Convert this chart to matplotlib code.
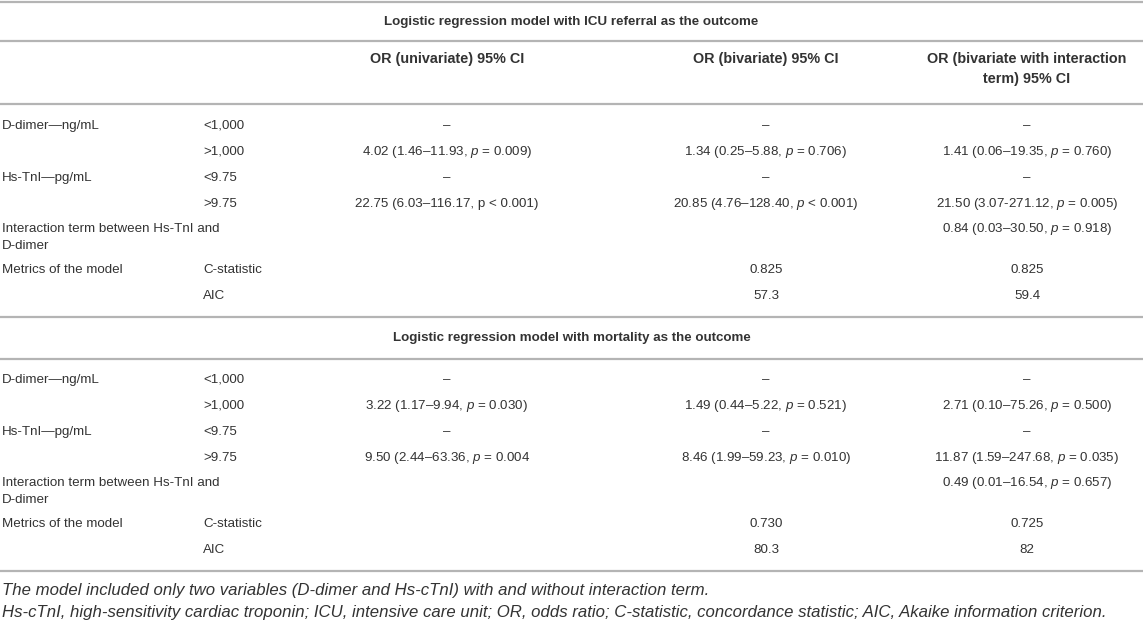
import matplotlib
matplotlib.use("Agg")
import matplotlib.pyplot as plt

plt.rcParams['font.family'] = ['Liberation Sans', 'DejaVu Sans']
plt.rcParams['mathtext.fontset'] = 'custom'
plt.rcParams['mathtext.rm'] = 'Liberation Sans'
plt.rcParams['mathtext.it'] = 'Liberation Sans:italic'

# ---- table content ----
section_titles = ['Logistic regression model with ICU referral as the outcome',
                  'Logistic regression model with mortality as the outcome']
col_headers = ['OR (univariate) 95% CI',
               'OR (bivariate) 95% CI',
               'OR (bivariate with interaction\nterm) 95% CI']

row_labels = ['D-dimer\u2014ng/mL', '', 'Hs-TnI\u2014pg/mL', '',
              'Interaction term between Hs-TnI and\nD-dimer', 'Metrics of the model', '']
sub_labels = ['<1,000', '>1,000', '<9.75', '>9.75', '', 'C-statistic', 'AIC']

P = r'$\mathit{p}$'
icu_univ = ['\u2013', '4.02 (1.46\u201311.93, ' + P + ' = 0.009)', '\u2013',
            '22.75 (6.03\u2013116.17, p < 0.001)', '', '', '']
icu_biv = ['\u2013', '1.34 (0.25\u20135.88, ' + P + ' = 0.706)', '\u2013',
           '20.85 (4.76\u2013128.40, ' + P + ' < 0.001)', '', '0.825', '57.3']
icu_int = ['\u2013', '1.41 (0.06\u201319.35, ' + P + ' = 0.760)', '\u2013',
           '21.50 (3.07-271.12, ' + P + ' = 0.005)',
           '0.84 (0.03\u201330.50, ' + P + ' = 0.918)', '0.825', '59.4']

mort_univ = ['\u2013', '3.22 (1.17\u20139.94, ' + P + ' = 0.030)', '\u2013',
             '9.50 (2.44\u201363.36, ' + P + ' = 0.004', '', '', '']
mort_biv = ['\u2013', '1.49 (0.44\u20135.22, ' + P + ' = 0.521)', '\u2013',
            '8.46 (1.99\u201359.23, ' + P + ' = 0.010)', '', '0.730', '80.3']
mort_int = ['\u2013', '2.71 (0.10\u201375.26, ' + P + ' = 0.500)', '\u2013',
            '11.87 (1.59\u2013247.68, ' + P + ' = 0.035)',
            '0.49 (0.01\u201316.54, ' + P + ' = 0.657)', '0.725', '82']

footnotes = ['The model included only two variables (D-dimer and Hs-cTnI) with and without interaction term.',
             'Hs-cTnI, high-sensitivity cardiac troponin; ICU, intensive care unit; OR, odds ratio; '
             'C-statistic, concordance statistic; AIC, Akaike information criterion.']

# ---- layout (pixels) ----
W, H = 1143, 642
fig = plt.figure(figsize=(W / 100, H / 100), dpi=100)
ax = fig.add_axes([0, 0, 1, 1])
ax.set_xlim(0, W)
ax.set_ylim(H, 0)
ax.axis('off')

txt = '#333333'
line_c = '#b4b4b4'
fs = 9.6
x_lab, x_sub = 2, 203
col_x = [447, 766, 1027]

def hline(y):
    ax.plot([0, W], [y, y], color=line_c, lw=1.6, solid_capstyle='butt')

def section(y0, values):
    # row heights: normal rows 26 px, two-line interaction row 41 px
    heights = [26, 26, 26, 25, 41, 26, 26]
    y = y0
    for i in range(len(row_labels)):
        for k, part in enumerate(row_labels[i].split('\n')):
            ax.text(x_lab, y + 17 * k, part, fontsize=fs, color=txt, va='center', ha='left')
        ax.text(x_sub, y, sub_labels[i], fontsize=fs, color=txt, va='center', ha='left')
        for cx, col in zip(col_x, values):
            ax.text(cx, y, col[i], fontsize=fs, color=txt, va='center', ha='center')
        y += heights[i]

hline(2)
ax.text(W / 2, 22, section_titles[0], fontsize=fs, color=txt, weight='bold',
        ha='center', va='center')
hline(41)
for cx, h in zip(col_x, col_headers):
    for k, part in enumerate(h.split('\n')):
        ax.text(cx, 59 + 20 * k, part, fontsize=10.4, color=txt, weight='bold',
                ha='center', va='center')
hline(104)
section(126, [icu_univ, icu_biv, icu_int])
hline(317)
ax.text(W / 2, 338, section_titles[1], fontsize=fs, color=txt, weight='bold',
        ha='center', va='center')
hline(359)
section(380, [mort_univ, mort_biv, mort_int])
hline(571)
ax.text(x_lab, 591, footnotes[0], fontsize=12.1, color=txt, style='italic', va='center')
ax.text(x_lab, 613, footnotes[1], fontsize=12.1, color=txt, style='italic', va='center')

fig.savefig('out.png', dpi=100, facecolor='white')
